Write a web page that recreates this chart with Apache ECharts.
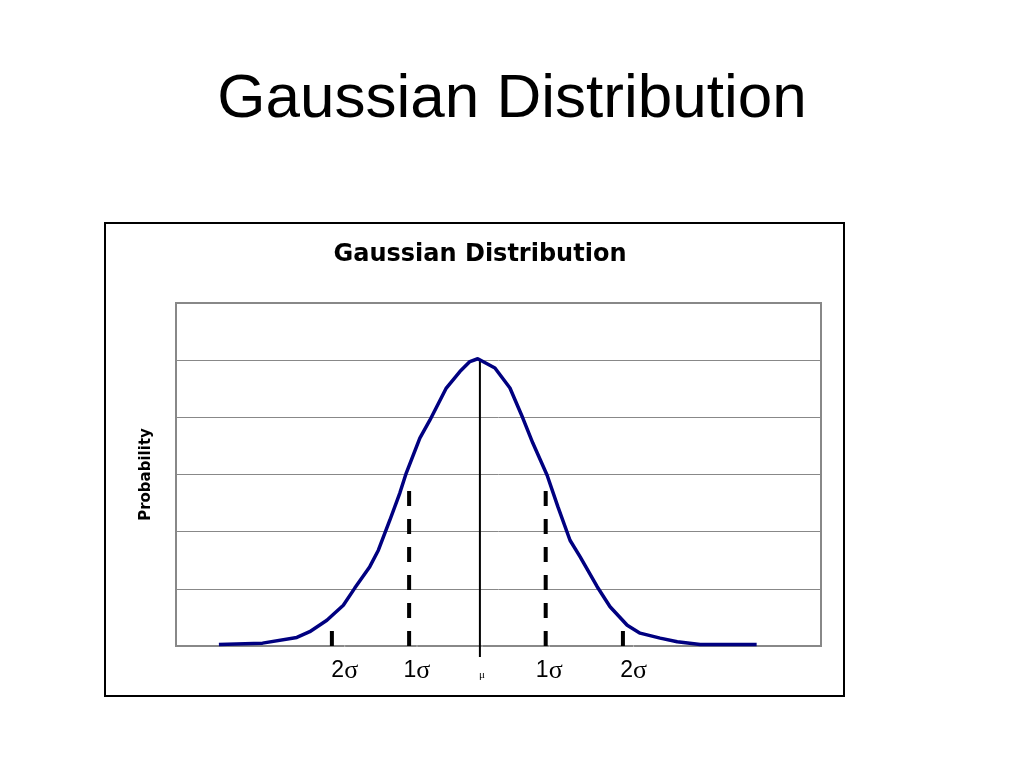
<!DOCTYPE html>
<html>
<head>
<meta charset="utf-8">
<script src="https://cdn.jsdelivr.net/npm/echarts@6/dist/echarts.min.js"></script>
<style>html,body{margin:0;padding:0;background:#fff;}#c{width:1024px;height:768px;}</style>
</head>
<body>
<div id="c"></div>
<script>
// Curve points (x in sigma units, y = probability)
var curveX = [-3.65,-3.04,-2.56,-2.38,-2.14,-1.91,-1.75,-1.54,-1.42,-1.26,-1.12,-1.03,-0.84,-0.70,-0.47,-0.28,-0.14,-0.03,0.21,0.42,0.60,0.74,0.94,1.09,1.26,1.40,1.64,1.82,2.06,2.24,2.52,2.76,3.08,3.87];
var curveY = [0.002,0.004,0.012,0.020,0.036,0.057,0.081,0.111,0.134,0.176,0.214,0.242,0.291,0.316,0.361,0.384,0.398,0.402,0.389,0.361,0.319,0.284,0.239,0.195,0.148,0.125,0.083,0.055,0.029,0.018,0.011,0.006,0.002,0.002];
// Marker lines (dashed at +/-1 and +/-2 sigma, solid at mean)
var markerX = [-2.07,-0.99,0.92,2.00];
var markerTop = [0.024,0.221,0.221,0.024];
var meanX = 0;
var meanTop = 0.4016;
var meanBottom = -0.0154;
// Tick labels under the axis
var tickLabels = ['2σ','1σ','μ','1σ','2σ'];
var tickLabelX = [-1.89,-0.88,0.03,0.97,2.15];

var chart = echarts.init(document.getElementById('c'), null, {renderer:'canvas'});

var series = [];
series.push({
  type:'line', data: curveX.map(function(x,i){return [x,curveY[i]];}),
  showSymbol:false, symbol:'none', smooth:false,
  lineStyle:{color:'#000080', width:3.5}, z:5, silent:true
});
markerX.forEach(function(x,i){
  series.push({
    type:'line', data:[[x,0],[x,markerTop[i]]], symbol:'none',
    lineStyle:{color:'#000', width:4, type:[15,13], cap:'butt'}, z:4, silent:true
  });
});
series.push({
  type:'line', data:[[meanX,meanBottom],[meanX,meanTop]], symbol:'none', clip:false,
  lineStyle:{color:'#000', width:2}, z:4, silent:true
});
series.push({
  type:'scatter', symbolSize:1, itemStyle:{color:'#fff', opacity:1}, clip:false, silent:true, z:1,
  data: tickLabelX.map(function(x,i){
    var isMu = tickLabels[i]==='μ';
    return {value:[x,0], label:{
      show:true, position:'inside', offset:[0, isMu?29:25], color:'#000', opacity:1,
      textBorderWidth:0, textShadowBlur:0,
      formatter: isMu ? '{m|μ}' : '{n|'+tickLabels[i].charAt(0)+'}{s|σ}',
      rich:{
        n:{fontFamily:'Liberation Sans', fontSize:23, color:'#000', textBorderWidth:0},
        s:{fontFamily:'Liberation Serif', fontSize:26, color:'#000', textBorderWidth:0},
        m:{fontFamily:'Liberation Serif', fontSize:11, color:'#000', textBorderWidth:0}
      }
    }};
  })
});

chart.setOption({
  animation:false,
  backgroundColor:'#fff',
  title:[
    {text:'Gaussian Distribution', left:'center', top:64,
     textStyle:{fontFamily:'Liberation Sans', fontSize:62, fontWeight:'normal', color:'#000'}},
    {text:'Gaussian Distribution', left:475, textAlign:'center', top:238,
     textStyle:{fontFamily:'DejaVu Sans', fontSize:24, fontWeight:'bold', color:'#000'}}
  ],
  graphic:[{type:'rect', shape:{x:105,y:223,width:739,height:473},
    style:{fill:'none', stroke:'#000', lineWidth:2}, silent:true}],
  grid:{left:176, top:303, width:645, height:343, show:true, borderColor:'#888', borderWidth:2, backgroundColor:'#fff'},
  xAxis:{type:'value', min:-4.25, max:4.77, axisLine:{show:false}, axisTick:{show:false},
    axisLabel:{show:false}, splitLine:{show:false}},
  yAxis:{type:'value', min:0, max:0.48, interval:0.08, axisLine:{show:false}, axisTick:{show:false},
    axisLabel:{show:false}, splitLine:{show:true, lineStyle:{color:'#888', width:1}},
    name:'Probability', nameLocation:'middle', nameGap:22, nameRotate:90,
    nameTextStyle:{fontFamily:'DejaVu Sans', fontWeight:'bold', fontSize:15, color:'#000'}},
  series:series
});
</script>
</body>
</html>
